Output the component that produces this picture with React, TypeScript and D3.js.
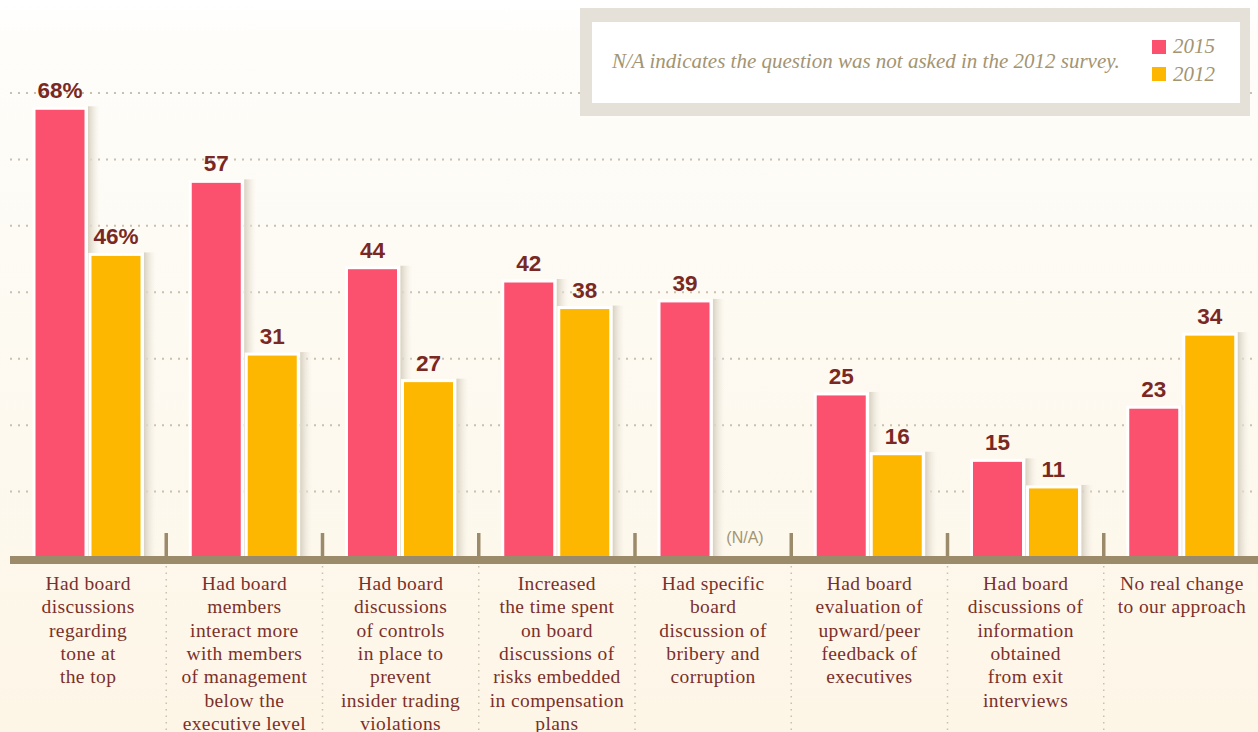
import React from "react";
import * as d3 from "d3";

const categories: string[][] = [
  ["Had board", "discussions", "regarding", "tone at", "the top"],
  ["Had board", "members", "interact more", "with members", "of management", "below the", "executive level"],
  ["Had board", "discussions", "of controls", "in place to", "prevent", "insider trading", "violations"],
  ["Increased", "the time spent", "on board", "discussions of", "risks embedded", "in compensation", "plans"],
  ["Had specific", "board", "discussion of", "bribery and", "corruption"],
  ["Had board", "evaluation of", "upward/peer", "feedback of", "executives"],
  ["Had board", "discussions of", "information", "obtained", "from exit", "interviews"],
  ["No real change", "to our approach"],
];
const values2015: number[] = [68, 57, 44, 42, 39, 25, 15, 23];
const values2012: (number | null)[] = [46, 31, 27, 38, null, 16, 11, 34];
const seriesNames = ["2015", "2012"];
const gridTicks = [10, 20, 30, 40, 50, 60, 70];
const naText = "(N/A)";
const noteText = "N/A indicates the question was not asked in the 2012 survey.";

const W = 1258;
const H = 732;
const colors: Record<string, string> = { "2015": "#fb516f", "2012": "#feb700" };
const labelColor = "#7a2823";
const catColor = "#7b302b";
const tan = "#9c8b6b";
const dotColor = "#c9c0ae";

export default function App() {
  const ids = categories.map((_, i) => String(i));
  const x0 = d3.scaleBand<string>().domain(ids).range([10, 1260]).padding(0);
  const x1 = d3
    .scaleBand<string>()
    .domain(seriesNames)
    .range([24, 132])
    .paddingInner(4 / 56)
    .paddingOuter(0);
  const y = d3.scaleLinear().domain([0, 70]).range([560, 95]);
  const baseY = y(0);

  const bars: { key: string; s: string; x: number; v: number; i: number }[] = [];
  ids.forEach((id, i) => {
    const vals = [values2015[i], values2012[i]];
    seriesNames.forEach((s, j) => {
      const v = vals[j];
      if (v !== null && v !== undefined) {
        bars.push({ key: id + s, s, x: (x0(id) as number) + (x1(s) as number), v, i });
      }
    });
  });
  const bw = x1.bandwidth();

  return (
    <div style={{ position: "absolute", left: 0, top: 0 }}>
      <svg width={W} height={H} style={{ display: "block" }}>
        <defs>
          <linearGradient id="bg" x1="0" y1="0" x2="0" y2="1">
            <stop offset="0" stopColor="#ffffff" />
            <stop offset="0.05" stopColor="#fefdfa" />
            <stop offset="1" stopColor="#fdf6e7" />
          </linearGradient>
          <linearGradient id="shadow" x1="0" y1="0" x2="1" y2="0">
            <stop offset="0" stopColor="#d6cfc0" stopOpacity="0.95" />
            <stop offset="0.4" stopColor="#e6e0d3" stopOpacity="0.7" />
            <stop offset="1" stopColor="#f5f0e6" stopOpacity="0" />
          </linearGradient>
        </defs>
        <rect x={0} y={0} width={W} height={H} fill="url(#bg)" />

        {/* gridlines */}
        {gridTicks.map((t) => (
          <line
            key={t}
            x1={10}
            x2={W}
            y1={y(t) - 2}
            y2={y(t) - 2}
            stroke={dotColor}
            strokeWidth={2}
            strokeDasharray="2,6"
          />
        ))}

        {/* shadows */}
        {bars.map((b) => (
          <rect
            key={"sh" + b.key}
            x={b.x + bw + 2}
            y={y(b.v) - 2}
            width={12}
            height={baseY - y(b.v) + 2}
            fill="url(#shadow)"
          />
        ))}

        {/* bars */}
        {bars.map((b) => (
          <rect
            key={"b" + b.key}
            x={b.x}
            y={y(b.v)}
            width={bw}
            height={baseY - y(b.v)}
            fill={colors[b.s]}
            stroke="#ffffff"
            strokeWidth={3}
          />
        ))}

        {/* N/A */}
        {values2012.map((v, i) =>
          v === null ? (
            <text
              key={"na" + i}
              x={(x0(ids[i]) as number) + (x1("2012") as number) + bw / 2 + 4}
              y={543}
              textAnchor="middle"
              fontFamily="'Liberation Sans', Arial, sans-serif"
              fontSize={16}
              fill="#a39472"
            >
              {naText}
            </text>
          ) : null
        )}

        {/* value labels */}
        {bars.map((b) => (
          <text
            key={"l" + b.key}
            x={b.x + bw / 2}
            y={y(b.v) - 10}
            textAnchor="middle"
            fontFamily="'Liberation Sans', Arial, sans-serif"
            fontWeight="bold"
            fontSize={22.5}
            fill={labelColor}
          >
            {b.v + (b.i === 0 ? "%" : "")}
          </text>
        ))}

        {/* separators */}
        {ids.slice(1).map((id) => {
          const sx = x0(id) as number;
          return (
            <g key={"sep" + id}>
              <line x1={sx} x2={sx} y1={533} y2={558} stroke={tan} strokeWidth={3.5} />
              <line
                x1={sx}
                x2={sx}
                y1={566}
                y2={H}
                stroke={dotColor}
                strokeWidth={1.5}
                strokeDasharray="1.5,5"
              />
            </g>
          );
        })}

        {/* axis */}
        <rect x={10} y={556} width={W - 10} height={8} fill={tan} />

        {/* category labels */}
        {categories.map((lines, i) => (
          <text
            key={"c" + i}
            x={(x0(ids[i]) as number) + x0.bandwidth() / 2}
            y={590}
            textAnchor="middle"
            fontFamily="'Liberation Serif', 'Times New Roman', serif"
            fontSize={19.5}
            letterSpacing={0.4}
            fill={catColor}
          >
            {lines.map((l, k) => (
              <tspan key={k} x={(x0(ids[i]) as number) + x0.bandwidth() / 2} dy={k === 0 ? 0 : 23.3}>
                {l}
              </tspan>
            ))}
          </text>
        ))}

        {/* legend box */}
        <rect x={580} y={8} width={670} height={108} fill="#e6e1d8" />
        <rect x={592} y={22} width={648} height={81} fill="#ffffff" />
        <text
          x={612}
          y={68}
          fontFamily="'Liberation Serif', 'Times New Roman', serif"
          fontStyle="italic"
          fontSize={21}
          fill="#a39472"
        >
          {noteText}
        </text>
        {seriesNames.map((s, k) => (
          <g key={"lg" + s}>
            <rect x={1152} y={40 + k * 27} width={14} height={14} fill={colors[s]} />
            <text
              x={1173}
              y={53 + k * 28}
              fontFamily="'Liberation Serif', 'Times New Roman', serif"
              fontStyle="italic"
              fontSize={21}
              fill="#a39472"
            >
              {s}
            </text>
          </g>
        ))}
      </svg>
    </div>
  );
}
